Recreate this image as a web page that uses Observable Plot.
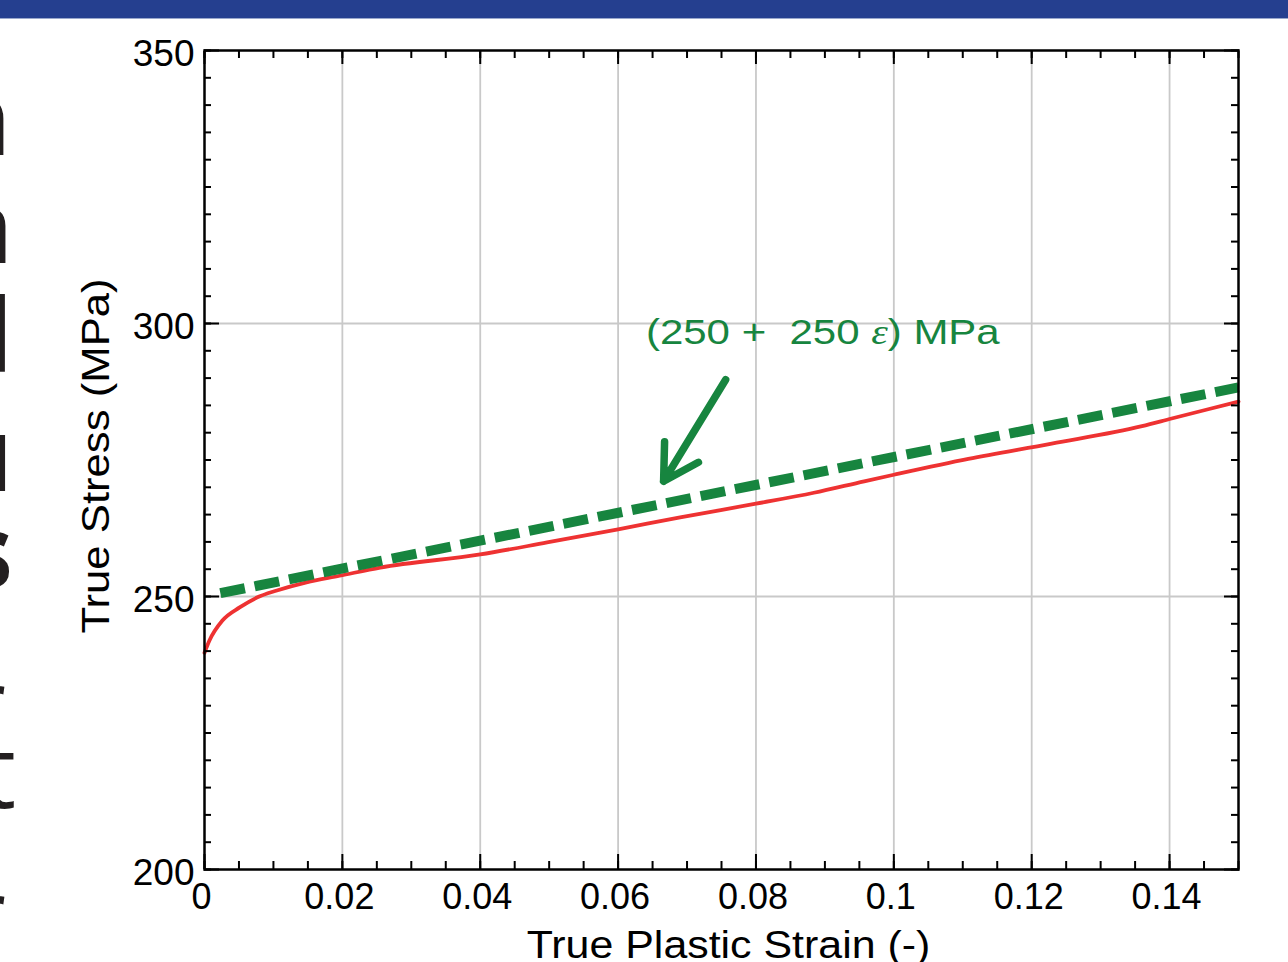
<!DOCTYPE html>
<html><head><meta charset="utf-8">
<script src="https://cdn.jsdelivr.net/npm/d3@7"></script>
<script src="https://cdn.jsdelivr.net/npm/@observablehq/plot@0.6"></script>
<style>
html,body{margin:0;padding:0;background:#fff;}
#wrap{position:relative;width:1288px;height:962px;overflow:hidden;background:#fff;}
#bar{position:absolute;left:0;top:0;width:1288px;height:18px;background:#253f8f;border-bottom:1px solid #9aa8cc;}
#side{position:absolute;left:0;top:0;}
</style></head><body>
<div id="wrap"><div id="chart"></div><svg id="side" width="80" height="962"></svg><div id="bar"></div></div>
<script>
// measured true stress-strain curve (red)
const strain = [0, 0.0007, 0.0026, 0.0051, 0.0076, 0.0105, 0.0148, 0.0196, 0.0255, 0.04, 0.0497, 0.06, 0.069, 0.08, 0.0884, 0.0957, 0.1, 0.1108, 0.1229, 0.136, 0.1403, 0.1456, 0.15];
const stress = [239.7, 241.9, 245.6, 248.0, 249.8, 251.1, 252.6, 253.8, 255.3, 257.7, 259.9, 262.3, 264.5, 267.0, 269.0, 271.1, 272.3, 275.2, 278.0, 281.2, 282.6, 284.3, 285.7];
// linear fit (green dashed) end points
const fitStrain = [0.0023, 0.15];
const fitStress = [250.6, 288.3];
// annotation
const noteText = "(250 +  250 ε) MPa";
const noteX = 0.0897, noteY = 298.3;
const arrowFrom = [0.0756, 289.7];
const arrowTo = [0.0666, 271.1];
// ticks
const xTicks = [0, 0.02, 0.04, 0.06, 0.08, 0.1, 0.12, 0.14];
const xTickLabels = ["0", "0.02", "0.04", "0.06", "0.08", "0.1", "0.12", "0.14"];
const yTicks = [200, 250, 300, 350];
const yTickLabels = ["200", "250", "300", "350"];
const xTitle = "True Plastic Strain (-)";
const yTitle = "True Stress (MPa)";
const xMinor = d3.range(0, 0.1501, 0.005);
const yMinor = d3.range(200, 350.1, 5);

const green = "#17853f", red = "#ee3232";
const curve = strain.map((e, i) => ({e, s: stress[i]}));
const fit = fitStrain.map((e, i) => ({e, s: fitStress[i]}));

const tickOpts = {label: null, tickFormat: () => "", stroke: "black", strokeWidth: 2};
const chart = Plot.plot({
  width: 1288, height: 962,
  marginLeft: 204, marginRight: 50, marginTop: 50, marginBottom: 93,
  style: {fontFamily: "'Liberation Sans', Arial, sans-serif", background: "white", overflow: "visible"},
  x: {domain: [0, 0.15]},
  y: {domain: [200, 350]},
  marks: [
    Plot.gridX(xTicks.slice(1), {stroke: "#c9c9c9", strokeOpacity: 1, strokeWidth: 1.8}),
    Plot.gridY(yTicks.slice(1, 3), {stroke: "#c9c9c9", strokeOpacity: 1, strokeWidth: 1.8}),
    Plot.line(curve, {x: "e", y: "s", stroke: red, strokeWidth: 3.8, curve: "monotone-x"}),
    Plot.line(fit, {x: "e", y: "s", stroke: green, strokeWidth: 10, strokeDasharray: "25,10", strokeLinecap: "butt"}),
    Plot.arrow([0], {x1: arrowFrom[0], y1: arrowFrom[1], x2: arrowTo[0], y2: arrowTo[1], stroke: green, strokeWidth: 7.5, headLength: 8}),
    Plot.text([noteText], {x: noteX, y: noteY, text: d => d, fill: green, fontSize: 35, textAnchor: "middle"}),
    Plot.frame({stroke: "black", strokeWidth: 2.5}),
    // inward ticks on all sides
    Plot.axisX(xTicks, {...tickOpts, anchor: "bottom", tickSize: -15}),
    Plot.axisX(xMinor, {...tickOpts, anchor: "bottom", tickSize: -8}),
    Plot.axisX(xTicks, {...tickOpts, anchor: "top", tickSize: -13}),
    Plot.axisX(xMinor, {...tickOpts, anchor: "top", tickSize: -7}),
    Plot.axisY(yTicks, {...tickOpts, anchor: "left", tickSize: -15}),
    Plot.axisY(yMinor, {...tickOpts, anchor: "left", tickSize: -7}),
    Plot.axisY(yTicks, {...tickOpts, anchor: "right", tickSize: -15}),
    Plot.axisY(yMinor, {...tickOpts, anchor: "right", tickSize: -8}),
    // tick labels
    Plot.axisX(xTicks, {anchor: "bottom", label: null, tickSize: 0, tickPadding: 14, dx: -3, fontSize: 36, fill: "black",
      tickFormat: d => xTickLabels[xTicks.indexOf(d)]}),
    Plot.axisY(yTicks, {anchor: "left", label: null, tickSize: 0, tickPadding: 10, dy: 4, fontSize: 37, fill: "black",
      tickFormat: d => yTickLabels[yTicks.indexOf(d)]}),
    // axis titles
    Plot.text([xTitle], {frameAnchor: "bottom", text: d => d, dx: 7, dy: 76, fontSize: 39, fill: "black", lineAnchor: "middle", textAnchor: "middle"}),
    Plot.text([yTitle], {frameAnchor: "left", text: d => d, dx: -108, dy: -4, rotate: -90, fontSize: 38, fill: "black", lineAnchor: "middle", textAnchor: "middle"})
  ]
});
document.getElementById("chart").appendChild(chart);

// italic epsilon and horizontal stretch as in the source slide
const svg = d3.select(chart);
svg.selectAll("text").each(function() {
  const t = d3.select(this);
  const s = this.textContent;
  if (s === noteText) {
    t.text(null).style("white-space", "pre");
    const parts = s.split("ε");
    t.append("tspan").text(parts[0]);
    t.append("tspan").attr("font-style", "italic").attr("font-family", "'Liberation Serif', serif").text("ε");
    t.append("tspan").text(parts[1]);
    t.attr("transform", (t.attr("transform") || "") + " scale(1.2,1)");
  } else if (s === xTitle) {
    t.attr("transform", (t.attr("transform") || "") + " scale(1.1,1)");
  } else if (s === yTitle) {
    t.attr("transform", (t.attr("transform") || "") + " scale(1.15,1)");
  }
});

// cropped slide text at the left edge
const sideLetters = ["n", "a", "l", "u", "s", "r", "t", "r"];
const sideBaselines = [155, 263, 372, 491, 588, 742, 808, 952];
const sideBold = [true, true, true, true, true, false, false, false];
const sideRight = [11, 13, 13, 13, 13, 6, 16, 6];
d3.select("#side").selectAll("text").data(sideLetters).join("text")
  .attr("x", (d, i) => sideRight[i])
  .attr("y", (d, i) => sideBaselines[i])
  .attr("text-anchor", "end")
  .attr("font-family", "'Open Sans', sans-serif")
  .attr("font-size", 102)
  .attr("font-weight", (d, i) => sideBold[i] ? 700 : 400)
  .attr("fill", "#231f20")
  .text(d => d);
</script>
</body></html>
